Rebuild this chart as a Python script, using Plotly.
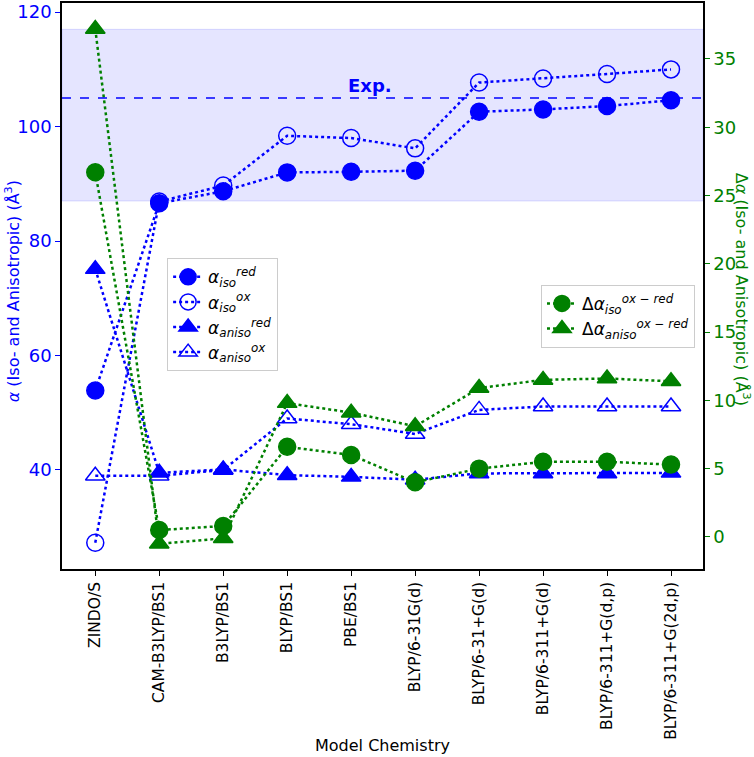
import plotly.graph_objects as go

# --- данные -------------------------------------------------------------
methods = [
    "ZINDO/S", "CAM-B3LYP/BS1", "B3LYP/BS1", "BLYP/BS1", "PBE/BS1",
    "BLYP/6-31G(d)", "BLYP/6-31+G(d)", "BLYP/6-311+G(d)",
    "BLYP/6-311+G(d,p)", "BLYP/6-311+G(2d,p)",
]
alpha_iso_red = [53.9, 86.6, 88.7, 92.0, 92.1, 92.3, 102.6, 103.0, 103.6, 104.6]
alpha_iso_ox = [27.3, 86.9, 89.7, 98.4, 98.0, 96.2, 107.7, 108.4, 109.2, 110.0]
alpha_aniso_red = [75.1, 39.5, 40.1, 39.1, 38.8, 38.3, 39.4, 39.4, 39.4, 39.5]
alpha_aniso_ox = [39.0, 39.0, 40.0, 49.0, 48.0, 46.3, 50.5, 51.1, 51.1, 51.1]
d_iso = [26.7, 0.5, 0.8, 6.6, 6.0, 4.0, 5.0, 5.5, 5.5, 5.3]
d_aniso = [37.2, -0.5, -0.1, 9.8, 9.1, 8.1, 10.9, 11.5, 11.6, 11.4]

exp_value = 105.0
exp_band = (87.0, 117.0)

BLUE = "#0000FF"
GREEN = "#008000"
FONT = "DejaVu Sans"

x = list(range(len(methods)))

fig = go.Figure()


def _add(y, name, symbol, color, axis, legend, filled=True):
    fig.add_trace(go.Scatter(
        x=x, y=y, name=name, mode="lines+markers",
        yaxis=axis, legend=legend,
        line=dict(color=color, width=2.5, dash="dot"),
        marker=dict(
            symbol=symbol if filled else symbol + "-open",
            size=17, color=color,
            line=dict(color=color, width=1.5),
        ),
    ))


_add(alpha_iso_red, "<i>α</i><sub><i>iso</i></sub><sup><i>red</i></sup>", "circle", BLUE, "y", "legend")
_add(alpha_iso_ox, "<i>α</i><sub><i>iso</i></sub><sup><i>ox</i></sup>", "circle", BLUE, "y", "legend", filled=False)
_add(alpha_aniso_red, "<i>α</i><sub><i>aniso</i></sub><sup><i>red</i></sup>", "triangle-up", BLUE, "y", "legend")
_add(alpha_aniso_ox, "<i>α</i><sub><i>aniso</i></sub><sup><i>ox</i></sup>", "triangle-up", BLUE, "y", "legend", filled=False)
_add(d_iso, "Δ<i>α</i><sub><i>iso</i></sub><sup><i>ox − red</i></sup>", "circle", GREEN, "y2", "legend2")
_add(d_aniso, "Δ<i>α</i><sub><i>aniso</i></sub><sup><i>ox − red</i></sup>", "triangle-up", GREEN, "y2", "legend2")

# экспериментальная полоса и линия
fig.add_hrect(
    y0=exp_band[0], y1=exp_band[1], yref="y",
    fillcolor="rgba(0,0,255,0.1)", line=dict(color="rgba(0,0,255,0.12)", width=1),
    layer="below",
)
fig.add_hline(y=exp_value, yref="y", line=dict(color=BLUE, width=1.5, dash="dash"))
fig.add_annotation(
    x=4.3, y=exp_value, yref="y", text="<b>Exp.</b>", showarrow=False,
    yanchor="bottom", font=dict(color=BLUE, size=18, family=FONT), yshift=0,
)

# подписи осей — аннотациями, чтобы правую повернуть сверху вниз
fig.add_annotation(
    x=-0.077, y=0.49, xref="paper", yref="paper", showarrow=False, textangle=-90,
    xanchor="center", yanchor="middle",
    text="<i>α</i> (Iso- and Anisotropic) (Å<sup>3</sup>)",
    font=dict(color=BLUE, size=16, family=FONT),
)
fig.add_annotation(
    x=1.061, y=0.495, xref="paper", yref="paper", showarrow=False, textangle=90,
    xanchor="center", yanchor="middle",
    text="Δ<i>α</i> (Iso- and Anisotropic) (Å<sup>3</sup>)",
    font=dict(color=GREEN, size=16, family=FONT),
)
fig.add_annotation(
    x=0.5, y=-0.311, xref="paper", yref="paper", showarrow=False,
    text="Model Chemistry", xanchor="center", yanchor="middle",
    font=dict(color="black", size=16, family=FONT),
)

legend_style = dict(
    bgcolor="rgba(255,255,255,0.8)", bordercolor="#CCCCCC", borderwidth=1,
    font=dict(size=17, family=FONT, color="black"),
    itemwidth=30, tracegroupgap=0,
)

fig.update_layout(
    width=754, height=757,
    margin=dict(l=62, r=51, t=3, b=188),
    plot_bgcolor="white", paper_bgcolor="white",
    font=dict(family=FONT, size=16, color="black"),
    showlegend=True,
    legend=dict(x=0.164, y=0.549, xanchor="left", yanchor="top", **legend_style),
    legend2=dict(x=0.9875, y=0.502, xanchor="right", yanchor="top", **legend_style),
    xaxis=dict(
        range=[-0.52, 9.5], tickmode="array", tickvals=x, ticktext=methods,
        tickangle=-90, tickfont=dict(size=15.5, color="black"),
        ticks="outside", ticklen=5, tickcolor="black",
        showline=True, linecolor="black", linewidth=1.5, mirror=True,
        showgrid=False, zeroline=False, automargin=False,
    ),
    yaxis=dict(
        range=[22.7, 121.6], tickvals=[40, 60, 80, 100, 120],
        tickfont=dict(size=18, color=BLUE), ticks="outside", ticklen=5, tickcolor=BLUE,
        showline=True, linecolor="black", linewidth=1.5,
        showgrid=False, zeroline=False, automargin=False,
    ),
    yaxis2=dict(
        range=[-2.35, 39.1], tickvals=[0, 5, 10, 15, 20, 25, 30, 35],
        overlaying="y", side="right",
        tickfont=dict(size=18, color=GREEN), ticks="outside", ticklen=5, tickcolor=GREEN,
        showline=True, linecolor="black", linewidth=1.5,
        showgrid=False, zeroline=False, automargin=False,
    ),
)

# убираем стандартный отступ body, иначе фигура съезжает на 8px
fig.write_html(
    "out.html",
    config={"displayModeBar": False},
    post_script="document.body.style.margin='0';",
)
